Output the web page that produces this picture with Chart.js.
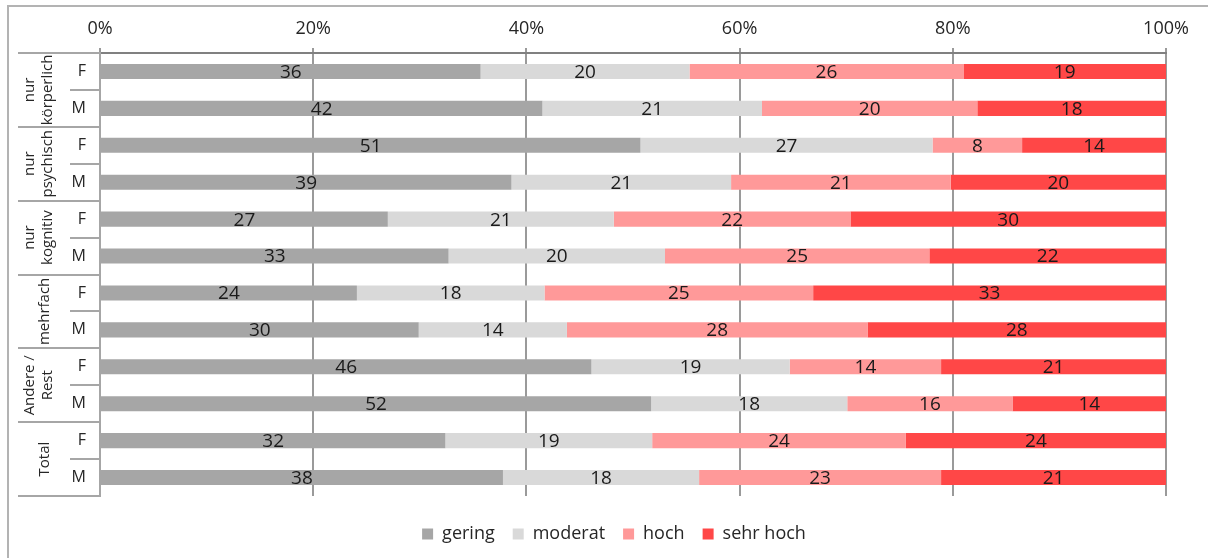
<!DOCTYPE html>
<html>
<head>
<meta charset="utf-8">
<script src="https://cdn.jsdelivr.net/npm/chart.js@4"></script>
<style>
  html, body { margin: 0; padding: 0; background: #fff; overflow: hidden; }
  #frame { position: absolute; left: 7px; top: 5px; width: 1300px; height: 700px;
           border-top: 2px solid #b3b3b3; border-left: 2px solid #b3b3b3; }
  #wrap { position: absolute; left: 0; top: 0; width: 1208px; height: 558px; }
</style>
</head>
<body>
<div id="frame"></div>
<div id="wrap"><canvas id="chart"></canvas></div>
<script>
const groups = ["nur\nkörperlich", "nur\npsychisch", "nur\nkognitiv", "mehrfach", "Andere /\nRest", "Total"];
const rows = ["F", "M", "F", "M", "F", "M", "F", "M", "F", "M", "F", "M"];
const seriesNames = ["gering", "moderat", "hoch", "sehr hoch"];
const colors = ["#a6a6a6", "#d9d9d9", "#ff9999", "#ff4747"];

const gering   = [35.7, 41.5, 50.7, 38.6, 27.0, 32.7, 24.1, 29.9, 46.1, 51.7, 32.4, 37.8];
const moderat  = [19.6, 20.6, 27.4, 20.6, 21.2, 20.3, 17.6, 13.9, 18.6, 18.4, 19.4, 18.4];
const hoch     = [25.7, 20.2, 8.4, 20.6, 22.2, 24.8, 25.2, 28.2, 14.2, 15.5, 23.8, 22.7];
const sehrHoch = [19.0, 17.7, 13.5, 20.2, 29.6, 22.2, 33.1, 28.0, 21.1, 14.4, 24.4, 21.1];

const xTicks = [0, 20, 40, 60, 80, 100];

const fontFamily = "'Open Sans', 'Noto Sans', sans-serif";
const textColor = "#262626";

// group labels, separators and value labels
const sideLabels = {
  id: "sideLabels",
  afterLayout(chart) {
    // legend sits a bit lower and right of the default spot
    const lg = chart.legend;
    lg.top += 11; lg.bottom += 11;
    lg.left += 31; lg.right += 31;
  },
  afterDraw(chart) {
    const ctx = chart.ctx;
    const area = chart.chartArea;
    const rowH = (area.bottom - area.top) / rows.length;
    ctx.save();
    ctx.strokeStyle = "#a6a6a6";
    ctx.lineWidth = 2;
    for (let g = 0; g <= groups.length; g++) {
      const y = Math.round(area.top + g * 2 * rowH);
      ctx.beginPath();
      ctx.moveTo(18, y);
      ctx.lineTo(area.left, y);
      ctx.stroke();
      if (g < groups.length) {
        const ym = Math.round(area.top + (g * 2 + 1) * rowH);
        ctx.beginPath();
        ctx.moveTo(70, ym);
        ctx.lineTo(area.left, ym);
        ctx.stroke();
      }
    }
    ctx.fillStyle = textColor;
    ctx.font = "15px " + fontFamily;
    ctx.textAlign = "center";
    ctx.textBaseline = "middle";
    groups.forEach((g, i) => {
      const yc = area.top + (i * 2 + 1) * rowH;
      const lines = g.split("\n");
      ctx.save();
      ctx.translate(lines.length > 1 ? 39 : 45, yc);
      ctx.rotate(-Math.PI / 2);
      lines.forEach((l, k) => {
        ctx.fillText(l, 0, (k - (lines.length - 1) / 2) * 18);
      });
      ctx.restore();
    });
    ctx.restore();
  },
  afterDatasetsDraw(chart) {
    const ctx = chart.ctx;
    ctx.save();
    ctx.fillStyle = "#1a1a1a";
    ctx.font = "19px " + fontFamily;
    ctx.textAlign = "center";
    ctx.textBaseline = "middle";
    chart.data.datasets.forEach((ds, di) => {
      chart.getDatasetMeta(di).data.forEach((bar, i) => {
        const p = bar.getProps(["x", "y", "base"], true);
        ctx.fillText(String(Math.round(ds.data[i])), (p.x + p.base) / 2, p.y + 1);
      });
    });
    ctx.restore();
  },
};

const ctx = document.getElementById("chart").getContext("2d");
const chart = new Chart(ctx, {
  type: "bar",
  data: {
    labels: rows,
    datasets: [gering, moderat, hoch, sehrHoch].map((d, i) => ({
      label: seriesNames[i],
      data: d,
      backgroundColor: colors[i],
      borderWidth: 0,
      barPercentage: 0.41,
      categoryPercentage: 1,
    })),
  },
  options: {
    indexAxis: "y",
    responsive: true,
    maintainAspectRatio: false,
    animation: false,
    layout: { padding: { left: 0, right: 42, top: 0, bottom: 16 } },
    plugins: {
      legend: {
        position: "bottom",
        labels: {
          boxWidth: 11,
          boxHeight: 11,
          padding: 18,
          color: textColor,
          font: { size: 18, family: fontFamily },
        },
      },
      tooltip: { enabled: false },
    },
    scales: {
      x: {
        position: "top",
        stacked: true,
        min: 0,
        max: 100,
        afterBuildTicks: (scale) => { scale.ticks = xTicks.map((v) => ({ value: v })); },
        afterFit: (scale) => { scale.height = 53; },
        ticks: {
          callback: (v) => v + "%",
          color: textColor,
          padding: 8,
          font: { size: 18, family: fontFamily },
        },
        grid: { color: "#9a9a9a", lineWidth: 2, tickLength: 5 },
        border: { color: "#808080", width: 2 },
      },
      y: {
        stacked: true,
        afterFit: (scale) => { scale.width = 100; },
        ticks: {
          color: textColor,
          padding: 6,
          font: { size: 16, family: fontFamily },
        },
        grid: { display: false },
        border: { color: "#a6a6a6", width: 2 },
      },
    },
  },
  plugins: [sideLabels],
});
</script>
</body>
</html>
